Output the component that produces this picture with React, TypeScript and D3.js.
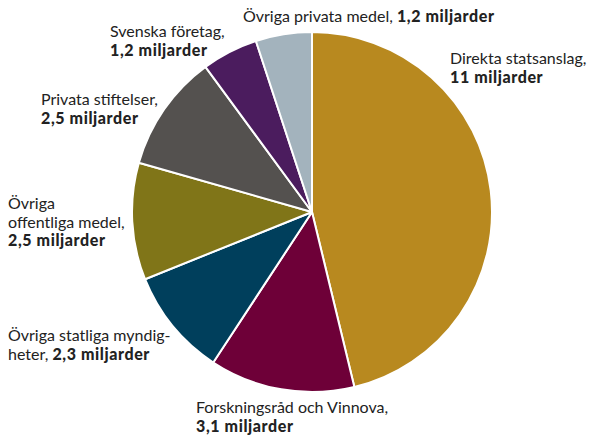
import React from "react";
import * as d3 from "d3";

const categories = [
  "Direkta statsanslag",
  "Forskningsråd och Vinnova",
  "Övriga statliga myndigheter",
  "Övriga offentliga medel",
  "Privata stiftelser",
  "Svenska företag",
  "Övriga privata medel",
];
const values = [11, 3.1, 2.3, 2.5, 2.5, 1.2, 1.2];
const colors = ["#b8891f", "#6e0038", "#003f5c", "#807518", "#54514f", "#4b1c5e", "#a3b3bd"];

// label lines: [normal text, bold text] per line
const labelLines: [string, string][][] = [
  [["Direkta statsanslag,", ""], ["", "11 miljarder"]],
  [["Forskningsråd och Vinnova,", ""], ["", "3,1 miljarder"]],
  [["Övriga statliga myndig-", ""], ["heter, ", "2,3 miljarder"]],
  [["Övriga", ""], ["offentliga medel,", ""], ["", "2,5 miljarder"]],
  [["Privata stiftelser,", ""], ["", "2,5 miljarder"]],
  [["Svenska företag,", ""], ["", "1,2 miljarder"]],
  [["Övriga privata medel, ", "1,2 miljarder"]],
];
const labelPos: [number, number][] = [
  [450, 64],
  [196, 413],
  [8, 341],
  [8, 209],
  [41, 105],
  [110, 37],
  [243, 22],
];

export default function App() {
  const W = 589, H = 435;
  const cx = 312, cy = 212, r = 180;
  const pie = d3.pie<number>().sort(null).value((d) => d)(values);
  const arc = d3.arc<d3.PieArcDatum<number>>().innerRadius(0).outerRadius(r);
  return (
    <svg width={W} height={H} style={{ position: "absolute", left: 0, top: 0 }}
      fontFamily="Lato, 'Open Sans', sans-serif" fontSize={16}>
      <g transform={`translate(${cx},${cy})`}>
        {pie.map((p, i) => (
          <path key={i} d={arc(p) || ""} fill={colors[i]} stroke="#fff" strokeWidth={2} strokeLinejoin="round" />
        ))}
      </g>
      {labelLines.map((lines, i) => (
        <text key={i} x={labelPos[i][0]} y={labelPos[i][1]} fill="#222">
          {lines.map((ln, j) => (
            <tspan key={j} x={labelPos[i][0]} dy={j === 0 ? 0 : 18.5}>
              {ln[0]}
              {ln[1] ? <tspan fontWeight={900} letterSpacing={0.6}>{ln[1]}</tspan> : null}
            </tspan>
          ))}
        </text>
      ))}
    </svg>
  );
}
